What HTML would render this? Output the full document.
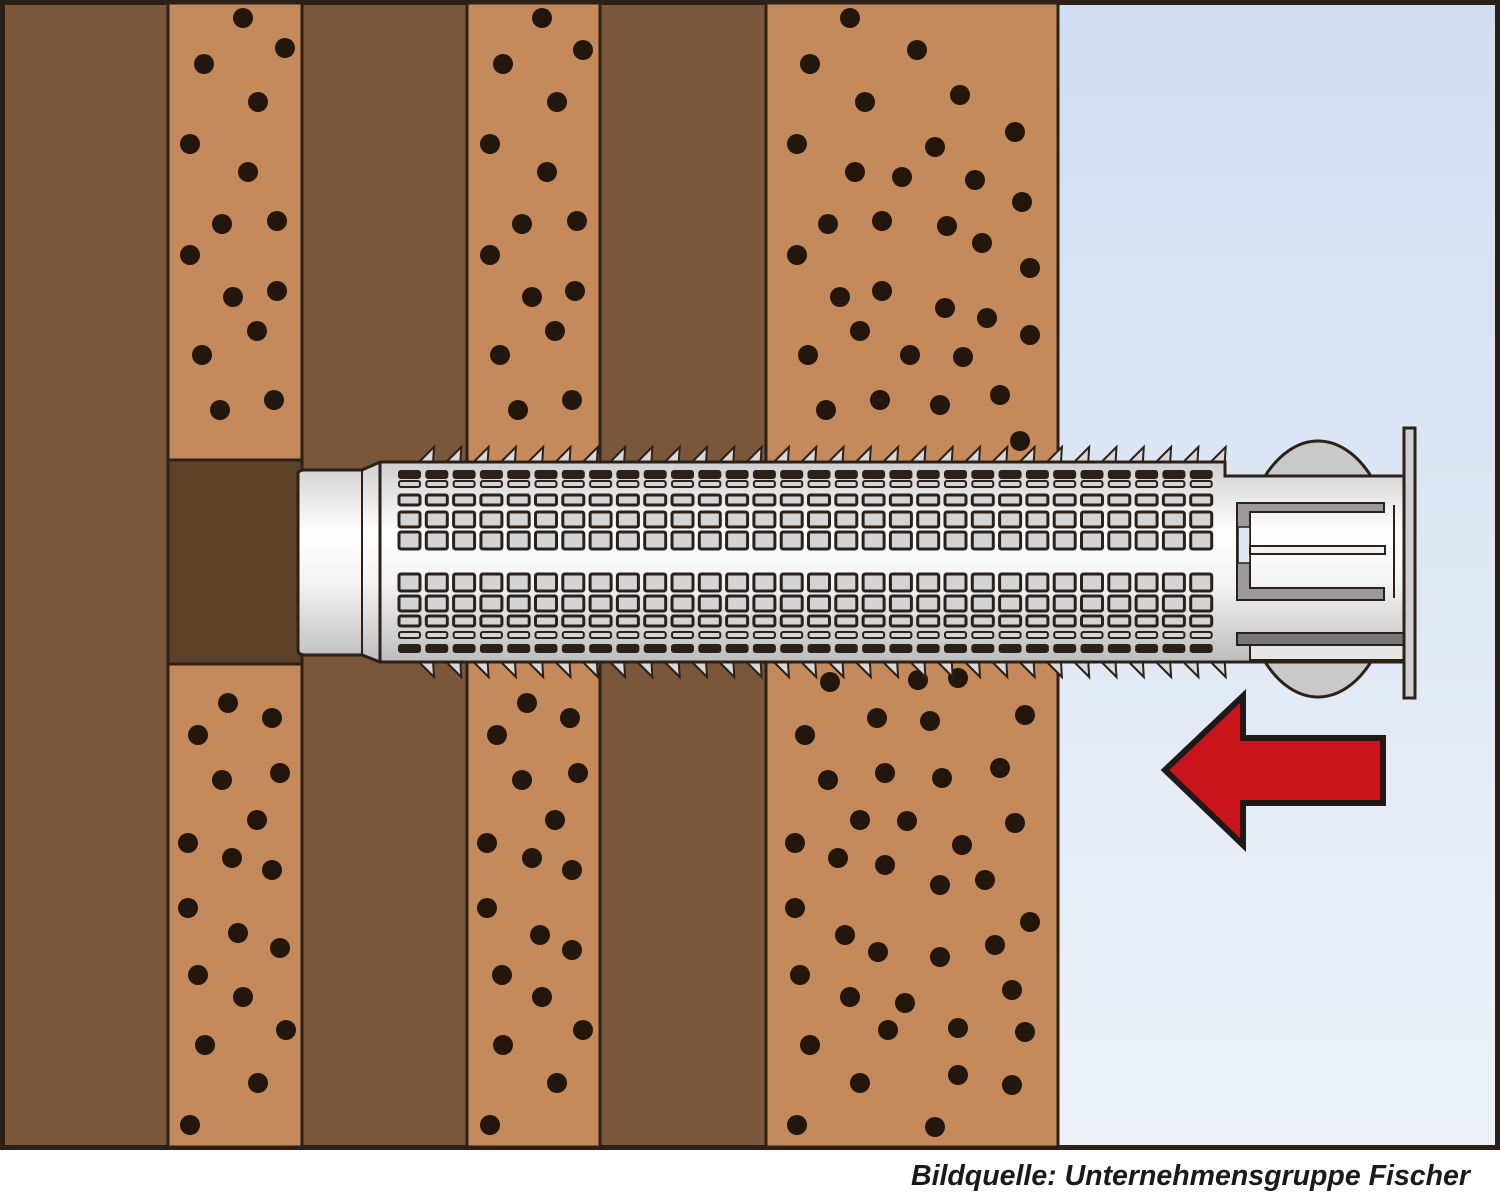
<!DOCTYPE html>
<html><head><meta charset="utf-8">
<style>
html,body{margin:0;padding:0;background:#fff;}
svg{display:block;}
</style></head>
<body>
<svg id="s" width="1500" height="1195" viewBox="0 0 1500 1195" xmlns="http://www.w3.org/2000/svg">
<defs>
<linearGradient id="sky" x1="0" y1="0" x2="0" y2="1">
<stop offset="0" stop-color="#d0ddf0"/><stop offset="1" stop-color="#eef2f8"/>
</linearGradient>
<linearGradient id="tube" x1="0" y1="0" x2="0" y2="1">
<stop offset="0" stop-color="#cfcfcf"/><stop offset="0.35" stop-color="#ffffff"/><stop offset="0.6" stop-color="#f4f4f4"/><stop offset="1" stop-color="#bdbdbd"/>
</linearGradient>
</defs>
<rect x="0" y="0" width="1500" height="1150" fill="#2b2118"/>
<rect x="5" y="5" width="1490" height="1140" fill="#7a573a"/>
<rect x="1058" y="5" width="437" height="1140" fill="url(#sky)"/>
<g fill="#c48a5b" stroke="#2b2118" stroke-width="3">
<rect x="168" y="3" width="134" height="1144"/>
<rect x="467" y="3" width="133" height="1144"/>
<rect x="766" y="3" width="292" height="1144"/>
</g>
<line x1="302" y1="3" x2="302" y2="1147" stroke="#2b2118" stroke-width="3"/>
<line x1="600" y1="3" x2="600" y2="1147" stroke="#2b2118" stroke-width="3"/>
<g id="dots" fill="#22160d"></g>
<rect x="168" y="460" width="134" height="204" fill="#5e4129" stroke="#2b2118" stroke-width="3"/>
<g id="teeth" fill="#d8d8d8" stroke="#2b2118" stroke-width="2"></g>
<ellipse cx="1318" cy="569" rx="77" ry="128" fill="#c9c9c9" stroke="#2b2118" stroke-width="3"/>
<path d="M298 474 Q298 470 305 470 L362 470 L380 462 L1225 462 L1225 476 L1404 476 L1404 662 L380 662 L362 655 L305 655 Q298 655 298 650 Z" fill="url(#tube)" stroke="#2b2118" stroke-width="3"/>
<line x1="362" y1="470" x2="362" y2="655" stroke="#2b2118" stroke-width="2"/>
<line x1="380" y1="462" x2="380" y2="662" stroke="#2b2118" stroke-width="3"/>
<g id="mesh" fill="#d4d4d4" stroke="#2b2118" stroke-width="3"></g>
<path d="M1237 503 L1384 503 L1384 512 L1250 512 L1250 588 L1384 588 L1384 600 L1237 600 Z" fill="#9a9a9a" stroke="#2b2118" stroke-width="2"/>
<rect x="1238" y="527" width="12" height="36" fill="#dfe7f3" stroke="#2b2118" stroke-width="1.5"/>
<rect x="1250" y="546" width="135" height="8" fill="#f2f2f2" stroke="#2b2118" stroke-width="2"/>
<line x1="1394" y1="505" x2="1394" y2="598" stroke="#2b2118" stroke-width="2"/>
<rect x="1237" y="633" width="167" height="12" fill="#777" stroke="#2b2118" stroke-width="2"/>
<rect x="1250" y="645" width="154" height="15" fill="#e6e6e6" stroke="#2b2118" stroke-width="2"/>
<rect x="1404" y="428" width="11" height="270" fill="#cfcfcf" stroke="#2b2118" stroke-width="3"/>
<path d="M1165 770 L1243 696 L1243 738 L1383 738 L1383 803 L1243 803 L1243 845 Z" fill="#c8141a" stroke="#1e1a1a" stroke-width="6" stroke-linejoin="miter"/>
<rect x="0" y="1150" width="1500" height="45" fill="#fff"/>
<text x="1470" y="1185" text-anchor="end" font-family="Liberation Sans, sans-serif" font-size="28.5" font-weight="bold" font-style="italic" fill="#1a1a1a">Bildquelle: Unternehmensgruppe Fischer</text>
</svg>
<script>
var NS="http://www.w3.org/2000/svg";
function el(p,t,a){var e=document.createElementNS(NS,t);for(var k in a)e.setAttribute(k,a[k]);p.appendChild(e);return e;}
var dots=[[243,18],[285,48],[204,64],[258,102],[190,144],[248,172],[222,224],[277,221],[190,255],[233,297],[277,291],[257,331],[202,355],[220,410],[274,400],[228,703],[272,718],[198,735],[222,780],[280,773],[257,820],[188,843],[232,858],[272,870],[188,908],[238,933],[280,948],[198,975],[243,997],[286,1030],[205,1045],[258,1083],[190,1125],
[542,18],[583,50],[503,64],[557,102],[490,144],[547,172],[522,224],[577,221],[490,255],[532,297],[575,291],[555,331],[500,355],[518,410],[572,400],[527,703],[570,718],[497,735],[522,780],[578,773],[555,820],[487,843],[532,858],[572,870],[487,908],[540,935],[572,950],[502,975],[542,997],[583,1030],[503,1045],[557,1083],[490,1125],
[850,18],[917,50],[810,64],[865,102],[960,95],[1015,132],[797,144],[935,147],[855,172],[902,177],[975,180],[1022,202],[828,224],[882,221],[947,226],[982,243],[797,255],[1030,268],[840,297],[882,291],[945,308],[987,318],[860,331],[1030,335],[808,355],[910,355],[963,357],[1000,395],[880,400],[940,405],[826,410],[1020,441],[830,682],[918,680],[958,678],
[877,718],[930,721],[1025,715],[805,735],[1000,768],[885,773],[942,778],[828,780],[860,820],[907,821],[962,845],[1015,823],[795,843],[838,858],[885,865],[940,885],[985,880],[795,908],[1030,922],[845,935],[878,952],[940,957],[995,945],[800,975],[850,997],[1012,990],[905,1003],[958,1028],[888,1030],[1025,1032],[810,1045],[958,1075],[860,1083],[1012,1085],[797,1125],[935,1127]];
var g=document.getElementById('dots');
dots.forEach(function(d){el(g,'circle',{cx:d[0],cy:d[1],r:10});});
var t=document.getElementById('teeth');
for(var x=418;x<1225;x+=27.3){
 el(t,'path',{d:'M'+(x)+' 463 L'+(x+16)+' 447 L'+(x+15)+' 463 Z'});
 el(t,'path',{d:'M'+(x)+' 661 L'+(x+16)+' 677 L'+(x+15)+' 661 Z'});
}
var m=document.getElementById('mesh');
var rows=[[471,7,1],[481,6,0],[495,10,0],[512,15,0],[532,17,0],[574,17,0],[596,15,0],[616,10,0],[632,6,0],[645,7,1]];
for(var i=0;i<30;i++){
 var x0=399+i*27.3;
 rows.forEach(function(r){
  el(m,'rect',{x:x0,y:r[0],width:21,height:r[1],rx:2,fill:r[2]?'#2b2118':'#d4d4d4','stroke-width':r[1]<8?2:3});
 });
}
</script>
</body></html>
